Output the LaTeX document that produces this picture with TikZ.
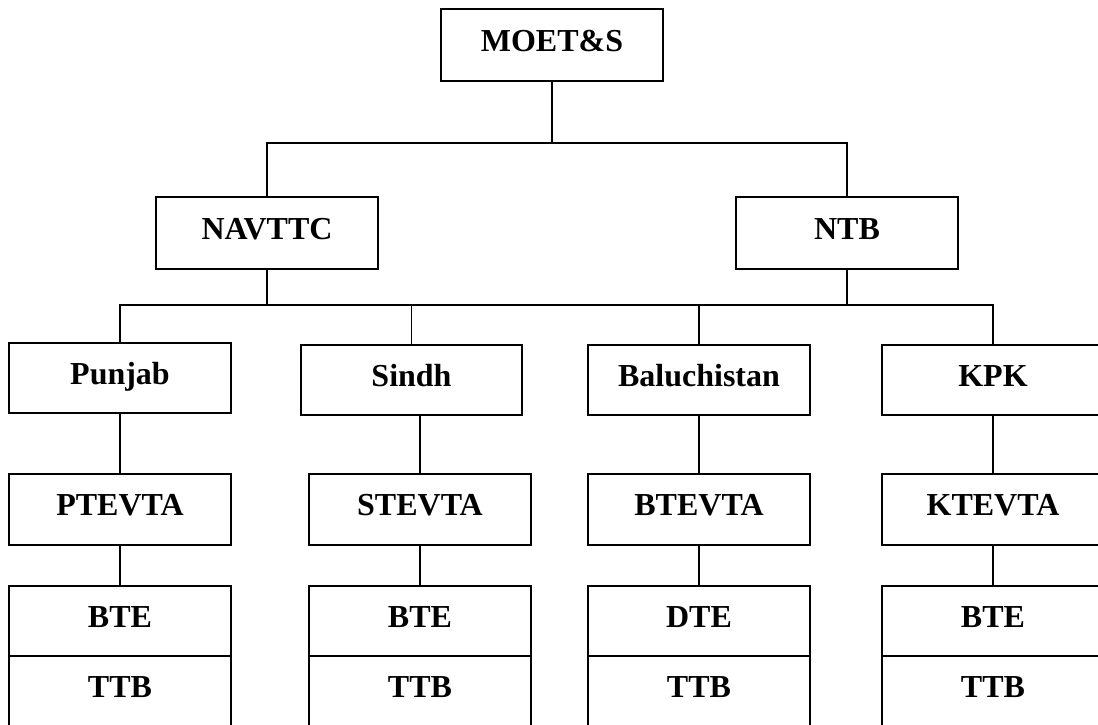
\documentclass[tikz,border=0pt]{standalone}
\usepackage{fontspec}
\setmainfont{Liberation Serif}
\usetikzlibrary{positioning, calc}

\begin{document}
\begin{tikzpicture}[x=1pt, y=-1pt,
    box/.style={draw, line width=1.4pt, minimum width=222pt, minimum height=70pt, inner sep=0pt,
        font=\fontsize{32}{36}\selectfont\bfseries, text height=22pt, text depth=10pt},
    link/.style={line width=1.1pt}]
    % Page frame
    \useasboundingbox (0,0) rectangle (1098,724);
    \clip (0,0) rectangle (1098,724);

    % Ministry
    \node[box, minimum height=72pt] (moets) at (552,45) {MOET\&S};

    % National bodies
    \node[box, minimum height=72pt] (navttc) at (267,233) {NAVTTC};
    \node[box, minimum height=72pt] (ntb) at (847,233) {NTB};

    % Provinces
    \node[box] (punjab) at (120,378) {Punjab};
    \node[box, minimum width=221pt] (sindh) at (411.5,380) {Sindh};
    \node[box] (baluch) at (699,380) {Baluchistan};
    \node[box] (kpk) at (993,380) {KPK};

    % Provincial TEVTAs
    \node[box, minimum height=71pt] (ptevta) at (120,509.5) {PTEVTA};
    \node[box, minimum height=71pt] (stevta) at (420,509.5) {STEVTA};
    \node[box, minimum height=71pt] (btevta) at (699,509.5) {BTEVTA};
    \node[box, minimum height=71pt] (ktevta) at (993,509.5) {KTEVTA};

    % Boards
    \node[box] (pbte) at (120,621) {BTE};
    \node[box] (sbte) at (420,621) {BTE};
    \node[box] (bdte) at (699,621) {DTE};
    \node[box] (kbte) at (993,621) {BTE};
    \node[box] (pttb) at (120,691) {TTB};
    \node[box] (sttb) at (420,691) {TTB};
    \node[box] (bttb) at (699,691) {TTB};
    \node[box] (kttb) at (993,691) {TTB};

    % Ministry to national bodies
    \coordinate (split1) at (552,143);
    \draw[link] (moets.south) -- (split1);
    \draw[link] (navttc.north) |- (split1) -| (ntb.north);

    % National bodies to provinces
    \coordinate (split2) at (267,305);
    \draw[link] (navttc.south) -- (split2);
    \draw[link] (ntb.south) -- (ntb.south |- split2);
    \draw[link] (punjab.north) |- (split2) -| (kpk.north);
    \draw[link] (sindh.north) -- (sindh.north |- split2);
    \draw[link] (baluch.north) -- (baluch.north |- split2);

    % Provinces to TEVTAs
    \draw[link] (punjab.south) -- (ptevta.north);
    \draw[link] (stevta.north) -- (stevta.north |- sindh.south);
    \draw[link] (baluch.south) -- (btevta.north);
    \draw[link] (kpk.south) -- (ktevta.north);

    % TEVTAs to boards
    \draw[link] (ptevta.south) -- (pbte.north);
    \draw[link] (stevta.south) -- (sbte.north);
    \draw[link] (btevta.south) -- (bdte.north);
    \draw[link] (ktevta.south) -- (kbte.north);
\end{tikzpicture}
\end{document}
